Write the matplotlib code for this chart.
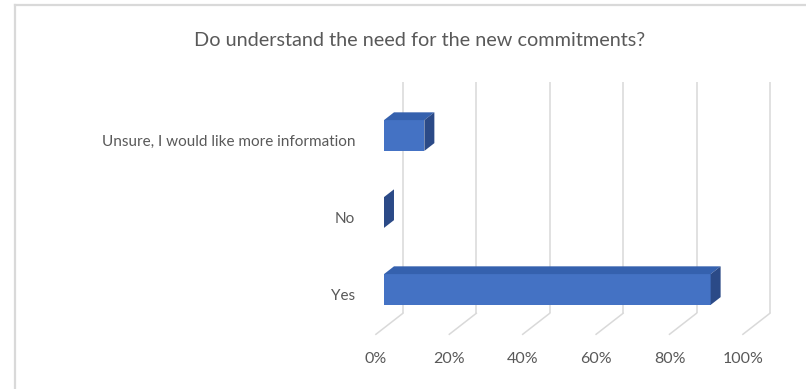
import matplotlib.pyplot as plt
from matplotlib.patches import Polygon
from matplotlib.lines import Line2D

categories = ["Yes", "No", "Unsure, I would like more information"]
shares = [0.89, 0.0, 0.11]
ticks = [0.0, 0.2, 0.4, 0.6, 0.8, 1.0]
tick_labels = ["0%", "20%", "40%", "60%", "80%", "100%"]
title = "Do understand the need for the new commitments?"

FRONT = "#4472C4"
TOP = "#3561AE"
SIDE = "#2B4A87"
GRID = "#D9D9D9"
TEXT = "#595959"

# oblique depth, in data units per full floor depth
DX = 27 / 367
DY = 21 / 77
BAR_DEPTH = 0.37   # bar thickness as a fraction of the floor depth
FLOOR_FRONT = -0.3  # floor front edge relative to the bar front faces
FLOOR_BACK = 0.7
BAR_H = 0.40


def main():
    plt.rcParams['font.family'] = ['Lato', 'DejaVu Sans']
    fig = plt.figure(figsize=(8.06, 3.89), dpi=100)
    W, H = 806, 389

    # chart frame (top and left edges visible)
    fig.add_artist(Line2D([14.5 / W, 1], [1 - 4.5 / H, 1 - 4.5 / H], color=GRID, lw=1.6))
    fig.add_artist(Line2D([14.5 / W, 14.5 / W], [1 - 4.5 / H, 0], color=GRID, lw=1.6))

    fig.text(420 / W, 1 - 41 / H, title, ha='center', va='center', color=TEXT, fontsize=14.3)

    ax = fig.add_axes([384 / W, (H - 328) / H, 367 / W, 231 / H])
    ax.set_xlim(0, 1)
    ax.set_ylim(-0.5, 2.5)
    ax.axis('off')

    y = list(range(len(categories)))

    # back wall gridlines and the floor lines running to the front
    bx, by = FLOOR_BACK * DX, FLOOR_BACK * DY
    fx, fy = FLOOR_FRONT * DX, FLOOR_FRONT * DY
    for t, lab in zip(ticks, tick_labels):
        ax.plot([t + bx, t + bx], [-0.5 + by, 2.5 + by], color=GRID, lw=1.1,
                clip_on=False, zorder=1, solid_capstyle='butt')
        ax.plot([t + bx, t + fx], [-0.5 + by, -0.5 + fy], color=GRID, lw=1.1,
                clip_on=False, zorder=1)
        ax.annotate(lab, (t + fx, -0.5 + fy), xytext=(0, -18), textcoords='offset points',
                    ha='center', va='center', color=TEXT, fontsize=11.5,
                    annotation_clip=False)

    # bars: front faces, then top and right side faces
    ax.barh(y, shares, height=BAR_H, color=FRONT, zorder=3)
    dx, dy = BAR_DEPTH * DX, BAR_DEPTH * DY
    for yi, v in zip(y, shares):
        lo, hi = yi - BAR_H / 2, yi + BAR_H / 2
        top = [(0, hi), (v, hi), (v + dx, hi + dy), (dx, hi + dy)]
        side = [(v, lo), (v, hi), (v + dx, hi + dy), (v + dx, lo + dy)]
        ax.add_patch(Polygon(top, closed=True, facecolor=TOP, edgecolor='none',
                             zorder=3, clip_on=False))
        ax.add_patch(Polygon(side, closed=True, facecolor=SIDE, edgecolor='none',
                             zorder=3, clip_on=False))

    # category labels sit on the front edge of the floor
    for yi, lab in zip(y, categories):
        ax.annotate(lab, (fx, yi + fy), xytext=(-15, 0), textcoords='offset points',
                    ha='right', va='center', color=TEXT, fontsize=11,
                    annotation_clip=False)

    fig.savefig('out.png', dpi=100)


if __name__ == "__main__":
    main()
